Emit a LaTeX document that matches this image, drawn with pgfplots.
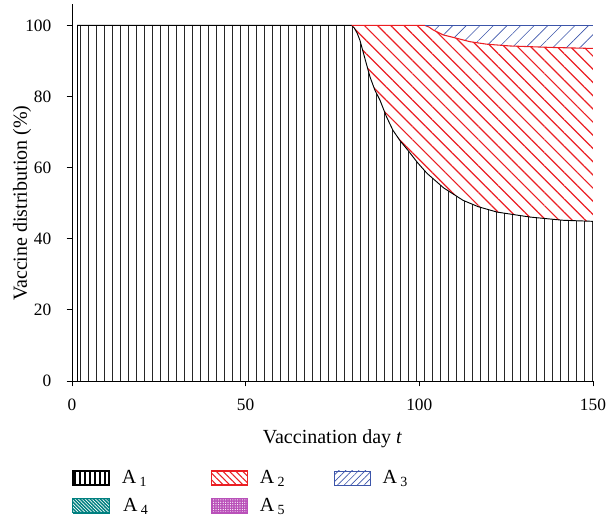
\documentclass[border=0pt]{standalone}
\usepackage{fontspec}
\setmainfont{Liberation Serif}
\usepackage{pgfplots}
\pgfplotsset{compat=1.18}
\usepgfplotslibrary{fillbetween}
\usetikzlibrary{patterns.meta}
\definecolor{hatchred}{RGB}{235,30,35}
\definecolor{hatchblue}{RGB}{60,85,170}
\definecolor{tealA}{RGB}{0,128,128}
\definecolor{magA}{RGB}{185,80,185}

\begin{document}
\begin{tikzpicture}
\begin{axis}[
  width=390.75pt, height=282.8pt, scale only axis,
  xmin=0, xmax=150, ymin=0, ymax=106,
  axis lines=left, axis line style={-, line width=0.7pt},
  xtick={0,50,100,150}, ytick={0,20,40,60,80,100},
  tick align=outside, major tick length=4pt,
  tick style={black, line width=0.7pt},
  ticklabel style={font=\fontsize{13}{15}\selectfont},
  /pgf/number format/assume math mode=true,
  yticklabel style={xshift=-8pt}, xticklabel style={yshift=-6pt},
  label style={font=\fontsize{15}{18}\selectfont},
  xlabel={Vaccination day \textit{t}},
  xlabel style={yshift=-7pt},
  ylabel={Vaccine distribution (\%)},
  ylabel style={at={(axis description cs:-0.096,0.4717)}, anchor=center},
  clip mode=individual,
  legend columns=3,
  legend style={draw=none, fill=none, inner sep=0pt,
    at={(axis description cs:0,-0.236)}, anchor=north west,
    font=\fontsize{15}{18}\selectfont, row sep=9.5pt,
    nodes={inner sep=0pt}, cells={anchor=west}},
]
% boundaries
\addplot[draw=none, name path=bot, forget plot] coordinates {(1.5,0)(150,0)};
\addplot[draw=none, name path=top, forget plot] coordinates {(80.5,100)(150,100)};
\addplot[black, line width=0.7pt, name path=c1, forget plot] coordinates {
  (1.5,100)(80.5,100)(81.3,99.2)(82.1,97.8)(82.9,95.8)(84.3,90.8)(85.8,85.5)(87.2,81.8)(88.7,78.9)
  (90.5,74.4)(92.4,70.5)(94.5,67.5)(96.7,64.9)(99.4,61.5)(102.2,58.4)(107,54.3)(112.6,50.8)(117,49.0)
  (122.4,47.5)(131.9,46.1)(141.4,45.2)(150,44.9)};
\addplot[hatchred, line width=0.8pt, name path=c2, forget plot] coordinates {
  (80.5,100)(101.6,100)(102.8,99.5)(104.0,98.7)(106.9,97.3)(109.8,96.6)(114.6,95.4)
  (119.4,94.7)(126.1,94.2)(137.6,93.8)(150,93.5)};
% areas
\addplot[pattern={Lines[angle=90,distance=6pt,line width=0.7pt]}, pattern color=black!85, forget plot]
  fill between[of=c1 and bot];
\addplot[pattern={Lines[angle=-45,distance=7pt,line width=0.9pt]}, pattern color=hatchred, forget plot]
  fill between[of=c2 and c1];
\addplot[pattern={Lines[angle=45,distance=7.2pt,line width=0.45pt]}, pattern color=hatchblue, forget plot]
  fill between[of=top and c2];
% outlines
\addplot[black, line width=0.7pt, forget plot] coordinates {(1.5,0)(1.5,100)};
\addplot[black, line width=0.7pt, forget plot] coordinates {(150,0)(150,100)};
\addplot[hatchblue, line width=0.7pt, forget plot] coordinates {(101.6,100)(150,100)};
% legend
\addlegendimage{legend image code/.code={\draw[black, line width=1.3pt, pattern={Lines[angle=90,distance=3.75pt,line width=0.8pt]}, pattern color=black] (0pt,-5.25pt) rectangle (27pt,5.25pt);}}
\addlegendentry{\makebox[75.75pt][l]{\hspace{9pt}A\,\textsubscript{1}}}
\addlegendimage{legend image code/.code={\draw[hatchred, line width=0.9pt, pattern={Lines[angle=-45,distance=3.5pt,line width=0.8pt]}, pattern color=hatchred] (0pt,-5.25pt) rectangle (27pt,5.25pt);}}
\addlegendentry{\makebox[64.5pt][l]{\hspace{9pt}A\,\textsubscript{2}}}
\addlegendimage{legend image code/.code={\draw[hatchblue, line width=0.6pt, pattern={Lines[angle=45,distance=3.5pt,line width=0.5pt]}, pattern color=hatchblue] (0pt,-5.25pt) rectangle (27pt,5.25pt);}}
\addlegendentry{\hspace{9pt}A\,\textsubscript{3}}
\addlegendimage{legend image code/.code={\fill[tealA] (0pt,-5.25pt) rectangle (27.5pt,5.25pt); \draw[tealA, line width=0.6pt, pattern={Lines[angle=-45,distance=1.8pt,line width=0.5pt]}, pattern color=white] (0pt,-5.25pt) rectangle (27.5pt,5.25pt);}}
\addlegendentry{\makebox[75.75pt][l]{\hspace{10pt}A\,\textsubscript{4}}}
\addlegendimage{legend image code/.code={\fill[magA] (0pt,-5.25pt) rectangle (27pt,5.25pt); \draw[magA, line width=0.6pt, pattern={Dots[distance=1.8pt,radius=0.45pt]}, pattern color=white] (0pt,-5.25pt) rectangle (27pt,5.25pt);}}
\addlegendentry{\makebox[64.5pt][l]{\hspace{9pt}A\,\textsubscript{5}}}
\coordinate (bbsw) at (axis description cs:-0.1382,-0.366);
\coordinate (bbne) at (axis description cs:1.0269,1.0106);
\end{axis}
\pgfresetboundingbox
\useasboundingbox (bbsw) rectangle (bbne);
\end{tikzpicture}
\end{document}
